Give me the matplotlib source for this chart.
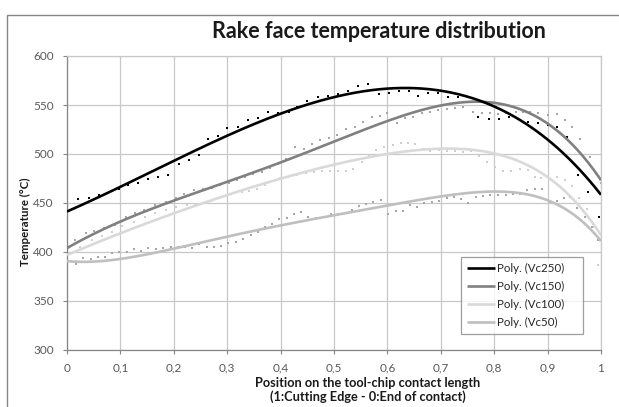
import numpy as np
import matplotlib
matplotlib.use("Agg")
import matplotlib.pyplot as plt
from matplotlib.patches import Rectangle
from matplotlib.ticker import FuncFormatter

plt.rcParams['font.family'] = ['Lato', 'DejaVu Sans']

title = "Rake face temperature distribution"
xlabel = "Position on the tool-chip contact length\n(1:Cutting Edge - 0:End of contact)"
ylabel = "Temperature (°C)"
series_names = ["Poly. (Vc250)", "Poly. (Vc150)", "Poly. (Vc100)", "Poly. (Vc50)"]

# trend-line knots
knot_x = [0.0, 0.05, 0.1, 0.2, 0.3, 0.4, 0.5, 0.6, 0.7, 0.8, 0.9, 0.95, 1.0]
vc250_curve = [441, 454, 467, 492, 519, 541, 559, 567, 562, 550, 518, 485, 460]
vc150_curve = [404, 418, 432, 452, 471, 492, 513, 534, 548, 552, 536, 502, 475]
vc100_curve = [397, 408, 419, 440, 458, 474, 490, 500, 505, 501, 476, 453, 417]
vc50_curve = [391, 389, 394, 403, 416, 427, 437, 448, 457, 461, 453, 438, 411]

# measured points
vc250_x = [0.021, 0.041, 0.06, 0.079, 0.098, 0.114, 0.133, 0.152, 0.17, 0.189, 0.21, 0.228,
           0.247, 0.264, 0.283, 0.30, 0.32, 0.339, 0.358, 0.376, 0.395, 0.415, 0.43, 0.45,
           0.47, 0.489, 0.507, 0.526, 0.545, 0.564, 0.584, 0.603, 0.622, 0.64, 0.657, 0.676,
           0.695, 0.713, 0.732, 0.75, 0.77, 0.79, 0.809, 0.828, 0.845, 0.863, 0.882, 0.90,
           0.918, 0.936, 0.957, 0.976, 0.996]
vc250_y = [454, 455, 458, 461, 464, 468, 470, 474, 477, 479, 490, 494,
           499, 515, 518, 527, 528, 535, 537, 543, 542, 543, 548, 554,
           558, 559, 561, 564, 569, 571, 561, 562, 564, 564, 559, 562,
           562, 558, 558, 558, 538, 536, 536, 538, 536, 533, 532, 530,
           528, 517, 479, 461, 436]

vc150_x = [0.015, 0.035, 0.05, 0.07, 0.09, 0.11, 0.128, 0.145, 0.165, 0.185, 0.205, 0.22,
           0.238, 0.255, 0.271, 0.287, 0.303, 0.318, 0.334, 0.349, 0.365, 0.38, 0.396, 0.41,
           0.427, 0.443, 0.458, 0.474, 0.49, 0.505, 0.522, 0.54, 0.555, 0.571, 0.586, 0.60,
           0.618, 0.633, 0.648, 0.665, 0.68, 0.695, 0.711, 0.727, 0.742, 0.76, 0.777, 0.792,
           0.808, 0.823, 0.84, 0.853, 0.867, 0.882, 0.90, 0.918, 0.933, 0.946, 0.96, 0.98, 1.0]
vc150_y = [412, 419, 421, 424, 428, 436, 440, 443, 448, 451, 455, 459,
           463, 464, 465, 468, 470, 473, 477, 480, 482, 486, 490, 495,
           507, 505, 510, 514, 516, 519, 526, 528, 533, 538, 539, 542,
           532, 537, 538, 542, 543, 545, 546, 547, 548, 543, 542, 542,
           541, 542, 543, 543, 543, 542, 540, 541, 535, 528, 515, 497, 470]

vc100_x = [0.0, 0.025, 0.046, 0.065, 0.084, 0.103, 0.125, 0.146, 0.165, 0.185, 0.205, 0.225,
           0.24, 0.255, 0.27, 0.283, 0.297, 0.311, 0.327, 0.34, 0.355, 0.37, 0.385, 0.399,
           0.414, 0.43, 0.447, 0.463, 0.478, 0.492, 0.507, 0.522, 0.536, 0.552, 0.565, 0.578,
           0.593, 0.61, 0.626, 0.638, 0.652, 0.667, 0.68, 0.696, 0.712, 0.727, 0.742, 0.757,
           0.772, 0.787, 0.802, 0.817, 0.832, 0.848, 0.863, 0.876, 0.888, 0.903, 0.918, 0.933,
           0.946, 0.958, 0.973, 0.985, 0.995]
vc100_y = [375, 405, 412, 416, 420, 427, 431, 436, 440, 443, 446, 448,
           449, 450, 452, 455, 457, 460, 461, 462, 464, 468, 472, 475,
           477, 479, 481, 482, 483, 483, 483, 483, 485, 492, 499, 504,
           507, 509, 511, 511, 510, 505, 503, 504, 503, 503, 502, 503,
           498, 492, 487, 483, 483, 485, 484, 477, 475, 475, 477, 473,
           467, 455, 444, 426, 387]

vc50_x = [0.017, 0.03, 0.045, 0.058, 0.071, 0.084, 0.097, 0.112, 0.125, 0.139, 0.152, 0.167,
          0.18, 0.194, 0.208, 0.221, 0.234, 0.247, 0.262, 0.275, 0.288, 0.301, 0.316, 0.33,
          0.345, 0.358, 0.371, 0.384, 0.397, 0.412, 0.425, 0.438, 0.451, 0.466, 0.479, 0.494,
          0.507, 0.52, 0.533, 0.547, 0.56, 0.573, 0.588, 0.601, 0.616, 0.629, 0.642, 0.655,
          0.668, 0.683, 0.697, 0.712, 0.725, 0.738, 0.751, 0.766, 0.779, 0.793, 0.808, 0.822,
          0.835, 0.848, 0.861, 0.876, 0.889, 0.904, 0.917, 0.93, 0.942, 0.955, 0.97, 0.983, 0.994]
vc50_y = [388, 394, 393, 395, 395, 399, 400, 400, 403, 401, 404, 403,
          404, 405, 405, 405, 404, 408, 405, 405, 406, 409, 410, 413,
          417, 420, 426, 429, 434, 435, 439, 441, 436, 435, 436, 439,
          439, 440, 443, 447, 449, 451, 453, 439, 442, 442, 448, 446,
          450, 451, 452, 455, 456, 454, 450, 456, 457, 458, 458, 458,
          459, 459, 463, 464, 464, 451, 452, 455, 456, 445, 436, 426, 412]

x_ticks = [0, 0.1, 0.2, 0.3, 0.4, 0.5, 0.6, 0.7, 0.8, 0.9, 1.0]
y_ticks = [300, 350, 400, 450, 500, 550, 600]

line_colors = ["#000000", "#808080", "#d9d9d9", "#bfbfbf"]
dot_colors = ["#000000", "#a6a6a6", "#cfcfcf", "#a6a6a6"]

fig = plt.figure(figsize=(6.19, 4.07), dpi=100)
ax = fig.add_axes([67 / 619, 1 - 350 / 407, (601 - 67) / 619, (350 - 56) / 407])

curves = [vc250_curve, vc150_curve, vc100_curve, vc50_curve]
pts = [(vc250_x, vc250_y), (vc150_x, vc150_y), (vc100_x, vc100_y), (vc50_x, vc50_y)]
xs = np.linspace(0, 1, 300)

for i in [2, 3, 1, 0]:
    px, py = pts[i]
    ms = 2.1 if i == 0 else 1.7
    ax.plot(px, py, linestyle='none', marker='s', ms=ms, mew=0,
            color=dot_colors[i], zorder=2 + (i == 0))

handles = []
for i in [2, 3, 1, 0]:
    coef = np.polyfit(knot_x, curves[i], 6)
    h, = ax.plot(xs, np.polyval(coef, xs), color=line_colors[i], lw=1.9,
                 zorder=4 + (3 - i), solid_capstyle='butt')
    handles.append((i, h))
handles = [h for i, h in sorted(handles)]

ax.set_xlim(0, 1)
ax.set_ylim(300, 600)
ax.set_xticks(x_ticks)
ax.set_yticks(y_ticks)
ax.xaxis.set_major_formatter(FuncFormatter(lambda v, p: ('%g' % round(v, 1)).replace('.', ',')))
ax.grid(True, color='#c8c8c8', lw=0.9)
ax.set_axisbelow(True)
for s in ax.spines.values():
    s.set_color('#c8c8c8')
    s.set_linewidth(0.9)
ax.spines['left'].set_color('#868686')
ax.spines['bottom'].set_color('#868686')
ax.tick_params(axis='both', colors='#868686', labelcolor='#595959', labelsize=8.5,
               length=3, width=0.8)
ax.tick_params(axis='x', pad=6)
ax.tick_params(axis='y', pad=6.5)

leg = ax.legend(handles, series_names, loc='lower left', bbox_to_anchor=(0.738, 0.054, 0.228, 0.262),
                mode='expand', frameon=True, fancybox=False, fontsize=8.3,
                handlelength=2.4, handletextpad=0.2, borderpad=0.5, labelspacing=0.62,
                borderaxespad=0)
leg.get_frame().set_edgecolor('#868686')
leg.get_frame().set_linewidth(0.9)
for t in leg.get_texts():
    t.set_color('#262626')

fig.text(379 / 619, 1 - 32 / 407, title, ha='center', va='center', fontsize=15.5,
         fontweight='bold', color='#1a1a1a')
fig.text(25 / 619, 1 - 222 / 407, ylabel, rotation=90, ha='center', va='center',
         fontsize=8.3, fontweight='bold', color='#1a1a1a')
fig.text(368 / 619, 1 - 390 / 407, xlabel, ha='center', va='center', fontsize=9.2,
         fontweight='bold', color='#1a1a1a', linespacing=1.1)

fig.add_artist(Rectangle((7 / 619, -0.1), 1.2, 1.1 - 15 / 407, transform=fig.transFigure,
                         fill=False, ec='#868686', lw=1))

fig.savefig("out.png", dpi=100)
